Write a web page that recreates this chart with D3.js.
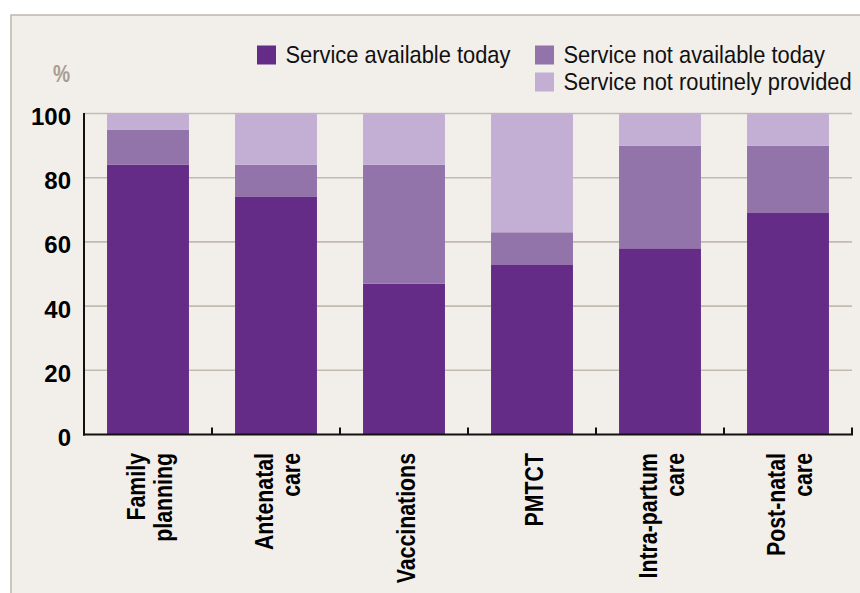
<!DOCTYPE html>
<html>
<head>
<meta charset="utf-8">
<script src="https://cdn.jsdelivr.net/npm/d3@7"></script>
<style>
  html, body { margin: 0; padding: 0; background: #ffffff; }
  svg { display: block; }
</style>
</head>
<body>
<svg id="chart" width="860" height="593"></svg>
<script>
// Service availability by type of service (% of facilities)
const categories = [
  ["Family", "planning"],
  ["Antenatal", "care"],
  ["Vaccinations"],
  ["PMTCT"],
  ["Intra-partum", "care"],
  ["Post-natal", "care"]
];
const seriesNames = [
  "Service available today",
  "Service not available today",
  "Service not routinely provided"
];
const availableToday    = [84, 74, 47, 53, 58, 69];
const notAvailableToday = [11, 10, 37, 10, 32, 21];
const notRoutinely      = [5, 16, 16, 37, 10, 10];
const yTicks = [0, 20, 40, 60, 80, 100];
const colors = ["#642c87", "#9274ab", "#c2afd3"];

(function () {
  const svg = d3.select("#chart");
  const W = 860, H = 593;

  // panel background with frame
  svg.append("rect")
    .attr("x", 11).attr("y", 15)
    .attr("width", W + 10).attr("height", H + 10)
    .attr("fill", "#f2efeb")
    .attr("stroke", "#c0b6ac")
    .attr("stroke-width", 1.5);

  const plotLeft = 84, plotRight = 852, plotTop = 113.5, plotBottom = 434.5;

  const keys = categories.map(c => c.join(" "));
  const x = d3.scaleBand()
    .domain(keys)
    .range([plotLeft, plotRight])
    .paddingInner(0.36)
    .paddingOuter(0.18);

  const y = d3.scaleLinear().domain([0, 100]).range([plotBottom, plotTop]);

  // gridlines
  svg.append("g")
    .selectAll("line")
    .data(yTicks.filter(t => t > 0))
    .join("line")
    .attr("x1", plotLeft).attr("x2", plotRight)
    .attr("y1", d => y(d)).attr("y2", d => y(d))
    .attr("stroke", "#c3bab0")
    .attr("stroke-width", 1.6);

  // stacked bars
  const rows = keys.map((k, i) => ({
    key: k,
    s0: availableToday[i],
    s1: notAvailableToday[i],
    s2: notRoutinely[i]
  }));
  const layers = d3.stack().keys(["s0", "s1", "s2"])(rows);

  svg.append("g")
    .selectAll("g")
    .data(layers)
    .join("g")
    .attr("fill", (d, i) => colors[i])
    .selectAll("rect")
    .data(d => d)
    .join("rect")
    .attr("x", d => x(d.data.key))
    .attr("width", x.bandwidth())
    .attr("y", d => y(d[1]))
    .attr("height", d => y(d[0]) - y(d[1]));

  // axes
  const gapHalf = x.step() * x.paddingInner() / 2;
  svg.append("line")
    .attr("x1", plotLeft).attr("x2", plotLeft)
    .attr("y1", plotTop - 0.5).attr("y2", plotBottom + 1)
    .attr("stroke", "#111").attr("stroke-width", 2);
  svg.append("line")
    .attr("x1", plotLeft - 1).attr("x2", plotRight + 1)
    .attr("y1", plotBottom).attr("y2", plotBottom)
    .attr("stroke", "#111").attr("stroke-width", 2);

  // category boundary ticks pointing up into the plot
  svg.append("g")
    .selectAll("line")
    .data(keys)
    .join("line")
    .attr("x1", d => x(d) + x.bandwidth() + gapHalf)
    .attr("x2", d => x(d) + x.bandwidth() + gapHalf)
    .attr("y1", plotBottom).attr("y2", plotBottom - 7)
    .attr("stroke", "#111").attr("stroke-width", 2);

  // y tick labels
  svg.append("g")
    .selectAll("text")
    .data(yTicks)
    .join("text")
    .attr("x", 71)
    .attr("y", d => y(d) + 11.5)
    .attr("text-anchor", "end")
    .attr("font-family", "'Liberation Sans', Arial, sans-serif")
    .attr("font-weight", "bold")
    .attr("font-size", 24)
    .attr("fill", "#000")
    .text(d => d);

  // unit label
  svg.append("text")
    .attr("transform", "translate(70,81.5) scale(0.8,1)")
    .attr("text-anchor", "end")
    .attr("font-family", "'Liberation Sans', Arial, sans-serif")
    .attr("font-weight", "bold")
    .attr("font-size", 24)
    .attr("fill", "#a89d94")
    .text("%");

  // rotated category labels
  const labelTop = 453;
  const xl = svg.append("g");
  categories.forEach((lines, i) => {
    const cx = x(keys[i]) + x.bandwidth() / 2;
    const offsets = lines.length === 1 ? [10.5] : [-3.5, 23.5];
    lines.forEach((ln, j) => {
      const bx = cx + offsets[j];
      xl.append("text")
        .attr("transform", `translate(${bx},${labelTop}) rotate(-90) scale(0.82,1)`)
        .attr("text-anchor", "end")
        .attr("font-family", "'Liberation Sans', Arial, sans-serif")
        .attr("font-weight", "bold")
        .attr("font-size", 26)
        .attr("fill", "#000")
        .text(ln);
    });
  });

  // legend
  const legendItems = [
    { name: seriesNames[0], color: colors[0], sx: 257, row: 0 },
    { name: seriesNames[1], color: colors[1], sx: 535, row: 0 },
    { name: seriesNames[2], color: colors[2], sx: 535, row: 1 }
  ];
  const lg = svg.append("g");
  legendItems.forEach(it => {
    const sy = 45.5 + it.row * 27;
    lg.append("rect")
      .attr("x", it.sx).attr("y", sy)
      .attr("width", 19).attr("height", 19)
      .attr("fill", it.color);
    const tx = it.sx + 28.5, ty = sy + 17;
    lg.append("text")
      .attr("transform", `translate(${tx},${ty}) scale(0.912,1)`)
      .attr("font-family", "'Liberation Sans', Arial, sans-serif")
      .attr("font-size", 24)
      .attr("fill", "#111")
      .text(it.name);
  });
})();
</script>
</body>
</html>
